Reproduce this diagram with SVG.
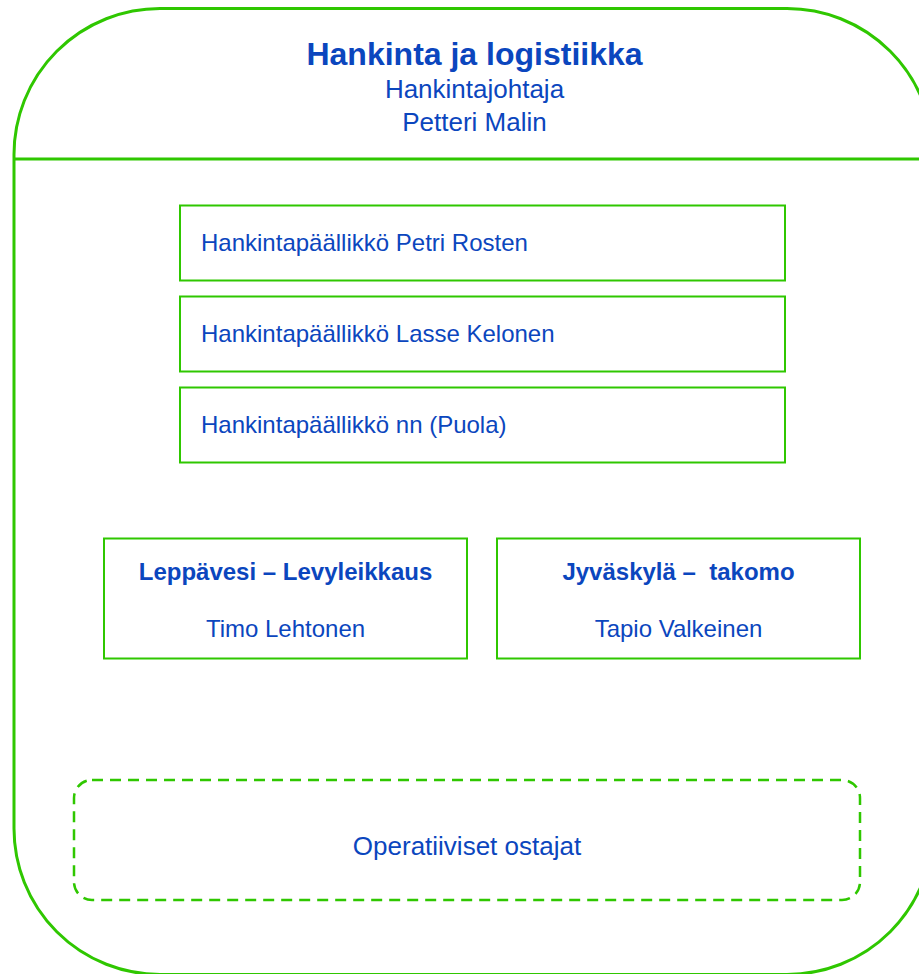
<svg xmlns="http://www.w3.org/2000/svg" width="919" height="974" viewBox="0 0 919 974">
<style>
.frame{fill:none;stroke:#2fc700;stroke-width:3}
.box{fill:#ffffff;stroke:#2fc700;stroke-width:2}
.dash{fill:none;stroke:#2fc700;stroke-width:2.5;stroke-dasharray:11 7}
text{font-family:"Liberation Sans",Arial,sans-serif;fill:#0b46be}
.t{font-size:24px}
.b{font-size:24px;font-weight:bold}
.c{text-anchor:middle}
</style>
<rect width="919" height="974" fill="#ffffff"/>
<g id="main">
<rect class="frame" x="14" y="8.5" width="919" height="966" rx="146" ry="146"/>
<line class="frame" x1="14" y1="159" x2="930" y2="159"/>
<text class="c" x="474.5" y="65" style="font-size:32px;font-weight:bold">Hankinta ja logistiikka</text>
<text class="c" x="474.5" y="98" style="font-size:26px">Hankintajohtaja</text>
<text class="c" x="474.5" y="131" style="font-size:26px">Petteri Malin</text>
</g>
<g id="n1">
<rect class="box" x="180" y="205.5" width="605" height="75"/>
<text class="t" x="201" y="251">Hankintapäällikkö Petri Rosten</text>
</g>
<g id="n2">
<rect class="box" x="180" y="296.5" width="605" height="75"/>
<text class="t" x="201" y="342">Hankintapäällikkö Lasse Kelonen</text>
</g>
<g id="n3">
<rect class="box" x="180" y="387.5" width="605" height="75"/>
<text class="t" x="201" y="433">Hankintapäällikkö nn (Puola)</text>
</g>
<g id="n4">
<rect class="box" x="104" y="538.5" width="363" height="120"/>
<text class="b c" x="285.5" y="580">Leppävesi – Levyleikkaus</text>
<text class="t c" x="285.5" y="637">Timo Lehtonen</text>
</g>
<g id="n5">
<rect class="box" x="497" y="538.5" width="363" height="120"/>
<text class="b c" x="678.5" y="580" xml:space="preserve">Jyväskylä –  takomo</text>
<text class="t c" x="678.5" y="637">Tapio Valkeinen</text>
</g>
<g id="n6">
<rect class="dash" x="74" y="780" width="786" height="120" rx="18" ry="18"/>
<text class="c" x="467" y="855" style="font-size:26px">Operatiiviset ostajat</text>
</g>
<g id="connectors"></g>
</svg>
